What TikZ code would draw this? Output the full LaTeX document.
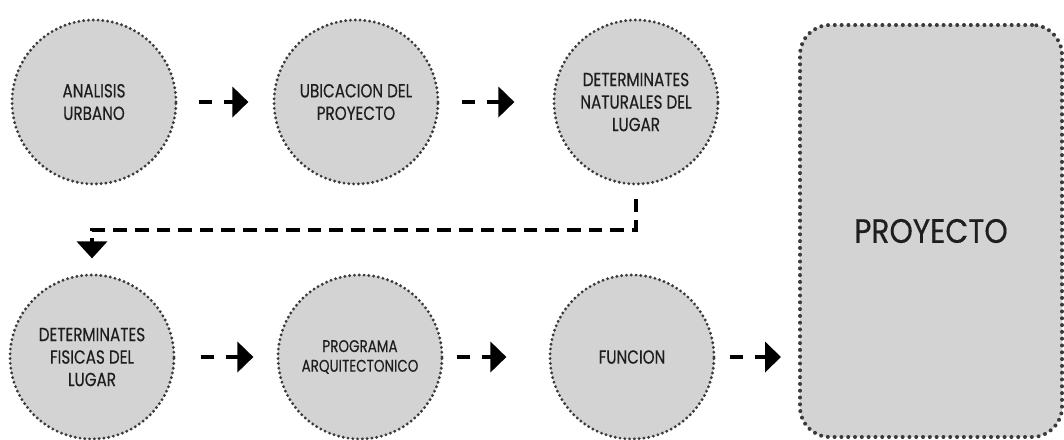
\documentclass[tikz,border=0pt]{standalone}
\usepackage{fontspec}
\setmainfont{Poppins}[FakeStretch=0.8, FakeBold=0.4]
\newfontfamily\titulo{Poppins}[FakeStretch=0.88, FakeBold=0.4]
\usetikzlibrary{arrows.meta}
\definecolor{grisetapa}{RGB}{211,211,211}
\definecolor{grispunto}{RGB}{58,58,58}
\definecolor{tinta}{RGB}{30,30,30}
\tikzset{
  etapa/.style={circle, fill=grisetapa, draw=grispunto, line width=0.8mm,
    dash pattern=on 0pt off 1.2mm, line cap=round, minimum size=41mm,
    inner sep=0pt, align=center, text=tinta, font=\fontsize{13.5}{16}\selectfont},
  proyecto/.style={rectangle, rounded corners=7.5mm, fill=grisetapa, draw=grispunto,
    line width=1mm, dash pattern=on 0pt off 1.7mm, line cap=round,
    minimum width=65.5mm, minimum height=103mm, text=tinta,
    font=\titulo\fontsize{24}{28}\selectfont},
  paso/.style={line width=1mm, dash pattern=on 3.3mm off 3mm on 30mm,
    -{Triangle[length=4mm,width=7.5mm]}},
  enlace/.style={line width=0.95mm, dash pattern=on 3.4mm off 2mm,
    -{Triangle[length=4.25mm,width=7.5mm]}}
}

\begin{document}
\begin{tikzpicture}[x=0.25mm, y=-0.25mm]
   \useasboundingbox (0,0) rectangle (1064,439);
   % fila superior
   \node[etapa] (urb)  at ( 94,102) {ANALISIS\\URBANO};
   \node[etapa] (ubi)  at (356,102) {UBICACION DEL\\PROYECTO};
   \node[etapa] (nat)  at (636,102) {DETERMINATES\\NATURALES DEL\\LUGAR};
   % fila inferior
   \node[etapa] (fis)  at ( 92,357) {DETERMINATES\\FISICAS DEL\\LUGAR};
   \node[etapa, font=\fontsize{12}{14}\selectfont] (prog) at (360,357) {PROGRAMA\\ARQUITECTONICO};
   \node[etapa] (fun)  at (632,357) {FUNCION};
   \node[proyecto] (proy) at (931,231) {PROYECTO};
   % flechas
   \draw[paso, shorten <=5.25mm, shorten >=6mm]   (urb)  -- (ubi);
   \draw[paso, shorten <=5.5mm,  shorten >=9.5mm] (ubi)  -- (nat);
   \draw[paso, shorten <=6.25mm, shorten >=5.75mm] (fis) -- (prog);
   \draw[paso, shorten <=3.25mm, shorten >=10.5mm] (prog) -- (fun);
   \draw[paso, shorten <=3.5mm,  shorten >=4.25mm] (fun.east) -- (fun.east -| proy.west);
   \draw[enlace, shorten <=3.25mm, shorten >=3.75mm] (nat.south) -- ++(0,44) -| (fis.north);
\end{tikzpicture}
\end{document}
